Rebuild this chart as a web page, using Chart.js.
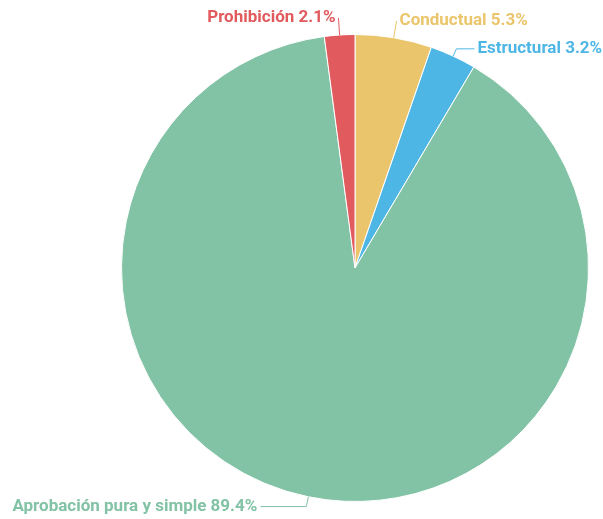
<!DOCTYPE html>
<html>
<head>
<meta charset="utf-8">
<script src="https://cdn.jsdelivr.net/npm/chart.js@4"></script>
<style>
  body { margin: 0; background: #fff; }
  canvas { display: block; }
</style>
</head>
<body>
<canvas id="myChart" width="603" height="519"></canvas>
<script>
// slices in clockwise order starting from the top
const categories = ['Conductual', 'Estructural', 'Aprobación pura y simple', 'Prohibición'];
const shares = [5.3, 3.2, 89.4, 2.1];
const colors = ['#EBC56B', '#4EB6E5', '#82C2A5', '#E05A5E'];

// leader line lengths (radial part, horizontal part) per slice
const lineOut = [17, 8, 10, 17];
const lineSide = [0, 18, 46, 0];

// draws outside labels with leader lines
const outsideLabels = {
    id: 'outsideLabels',
    afterDatasetsDraw(chart) {
        const ctx = chart.ctx;
        const meta = chart.getDatasetMeta(0);
        ctx.save();
        ctx.font = 'bold 17px Roboto';
        ctx.lineWidth = 1;
        meta.data.forEach((arc, i) => {
            const mid = (arc.startAngle + arc.endAngle) / 2;
            const dx = Math.cos(mid), dy = Math.sin(mid);
            const r = arc.outerRadius;
            const side = dx < 0 ? -1 : 1;
            const x1 = arc.x + dx * r, y1 = arc.y + dy * r;
            const x2 = arc.x + dx * (r + lineOut[i]), y2 = arc.y + dy * (r + lineOut[i]);
            const x3 = x2 + side * lineSide[i], y3 = y2;
            ctx.strokeStyle = colors[i];
            ctx.beginPath();
            ctx.moveTo(x1, y1);
            ctx.lineTo(x2, y2);
            ctx.lineTo(x3, y3);
            ctx.stroke();
            ctx.fillStyle = colors[i];
            ctx.textAlign = side < 0 ? 'right' : 'left';
            ctx.textBaseline = 'middle';
            ctx.fillText(categories[i] + ' ' + shares[i] + '%', x3 + side * 3, y3);
        });
        ctx.restore();
    }
};

new Chart(document.getElementById('myChart'), {
    type: 'pie',
    data: {
        labels: categories,
        datasets: [{
            data: shares,
            backgroundColor: colors,
            borderColor: '#ffffff',
            borderWidth: 1
        }]
    },
    options: {
        responsive: false,
        animation: false,
        layout: { padding: { left: 121, right: 14, top: 34, bottom: 17 } },
        plugins: {
            legend: { display: false },
            tooltip: { enabled: false }
        }
    },
    plugins: [outsideLabels]
});
</script>
</body>
</html>
